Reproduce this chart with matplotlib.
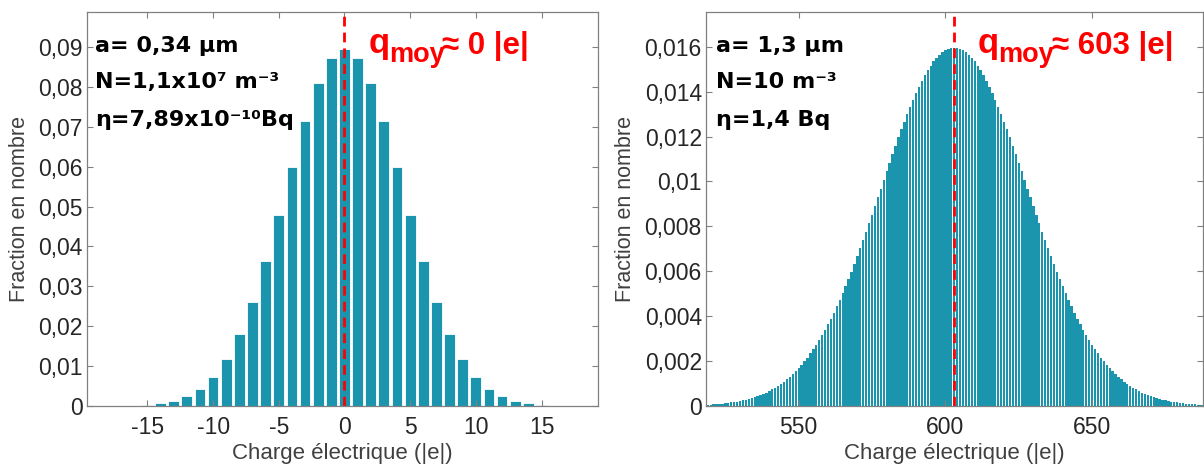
import numpy as np
import matplotlib
matplotlib.use("Agg")
import matplotlib.pyplot as plt
from matplotlib.ticker import FixedLocator, FuncFormatter

# charge distribution, small particle (a = 0,34 um)
charge_small = np.arange(-16, 17)
frac_small = [0.0001, 0.0002, 0.0007, 0.0013, 0.0024, 0.0043, 0.0073, 0.0117,
              0.0180, 0.0262, 0.0363, 0.0478, 0.0599, 0.0714, 0.0809, 0.0872,
              0.0894,
              0.0872, 0.0809, 0.0714, 0.0599, 0.0478, 0.0363, 0.0262, 0.0180,
              0.0117, 0.0073, 0.0043, 0.0024, 0.0013, 0.0007, 0.0002, 0.0001]

# charge distribution, large particle (a = 1,3 um), one bar per charge 519..688
charge_large = np.arange(519, 689)
frac_large = [
    0.00006, 0.00006, 0.00007, 0.00008, 0.00010, 0.00011, 0.00012, 0.00014, 0.00016, 0.00018,
    0.00020, 0.00022, 0.00025, 0.00028, 0.00032, 0.00035, 0.00039, 0.00044, 0.00049, 0.00054,
    0.00060, 0.00067, 0.00074, 0.00081, 0.00090, 0.00099, 0.00108, 0.00119, 0.00130, 0.00142,
    0.00155, 0.00169, 0.00183, 0.00199, 0.00216, 0.00234, 0.00253, 0.00273, 0.00294, 0.00316,
    0.00339, 0.00364, 0.00389, 0.00416, 0.00444, 0.00473, 0.00503, 0.00534, 0.00566, 0.00599,
    0.00633, 0.00668, 0.00703, 0.00740, 0.00777, 0.00814, 0.00852, 0.00891, 0.00929, 0.00968,
    0.01007, 0.01045, 0.01084, 0.01122, 0.01159, 0.01196, 0.01232, 0.01267, 0.01300, 0.01333,
    0.01364, 0.01394, 0.01422, 0.01449, 0.01473, 0.01496, 0.01516, 0.01535, 0.01551, 0.01564,
    0.01576, 0.01585, 0.01591, 0.01595,
    0.01596,
    0.01595, 0.01591, 0.01585, 0.01576, 0.01564, 0.01551, 0.01535, 0.01516, 0.01496, 0.01473,
    0.01449, 0.01422, 0.01394, 0.01364, 0.01333, 0.01300, 0.01267, 0.01232, 0.01196, 0.01159,
    0.01122, 0.01084, 0.01045, 0.01007, 0.00968, 0.00929, 0.00891, 0.00852, 0.00814, 0.00777,
    0.00740, 0.00703, 0.00668, 0.00633, 0.00599, 0.00566, 0.00534, 0.00503, 0.00473, 0.00444,
    0.00416, 0.00389, 0.00364, 0.00339, 0.00316, 0.00294, 0.00273, 0.00253, 0.00234, 0.00216,
    0.00199, 0.00183, 0.00169, 0.00155, 0.00142, 0.00130, 0.00119, 0.00108, 0.00099, 0.00090,
    0.00081, 0.00074, 0.00067, 0.00060, 0.00054, 0.00049, 0.00044, 0.00039, 0.00035, 0.00032,
    0.00028, 0.00025, 0.00022, 0.00020, 0.00018, 0.00016, 0.00014, 0.00012, 0.00011, 0.00010,
    0.00008, 0.00007, 0.00006, 0.00006, 0.00005,
]

q_moy_small = 0
q_moy_large = 603

params_small = ["a= 0,34 µm", "N=1,1x10⁷ m⁻³", "η=7,89x10⁻¹⁰Bq"]
params_large = ["a= 1,3 µm", "N=10 m⁻³", "η=1,4 Bq"]

yticks_small = [0, 0.01, 0.02, 0.03, 0.04, 0.05, 0.06, 0.07, 0.08, 0.09]
yticks_large = [0, 0.002, 0.004, 0.006, 0.008, 0.01, 0.012, 0.014, 0.016]
xticks_small = [-15, -10, -5, 0, 5, 10, 15]
xticks_large = [550, 600, 650]

BAR = "#1b95ad"
GRID_GREY = "#808080"
TXT = "#262626"

plt.rcParams["font.family"] = ["Liberation Sans", "DejaVu Sans"]

fig = plt.figure(figsize=(12.04, 4.70), dpi=100)
ax1 = fig.add_axes([87 / 1204, 64 / 470, 511 / 1204, 394 / 470])
ax2 = fig.add_axes([706 / 1204, 64 / 470, 497 / 1204, 394 / 470])


def comma(v, pos):
    return f"{v:g}".replace(".", ",")


def style(ax, xt, yt, xlim, ylim, ylab_x):
    ax.set_xlim(*xlim)
    ax.set_ylim(*ylim)
    ax.xaxis.set_major_locator(FixedLocator(xt))
    ax.yaxis.set_major_locator(FixedLocator(yt))
    ax.yaxis.set_major_formatter(FuncFormatter(comma))
    ax.xaxis.set_major_formatter(FuncFormatter(lambda v, p: f"{v:g}"))
    ax.tick_params(direction="in", top=True, right=True, length=4,
                   width=0.8, color=GRID_GREY, labelsize=16.5, labelcolor=TXT)
    ax.tick_params(axis="x", pad=7)
    ax.tick_params(axis="y", pad=3)
    for s in ax.spines.values():
        s.set_color(GRID_GREY)
        s.set_linewidth(0.9)
    ax.set_xlabel("Charge électrique (|e|)", fontsize=16, color="#404040")
    ax.set_ylabel("Fraction en nombre", fontsize=15.5, color="#404040")
    ax.xaxis.set_label_coords(0.5, -0.095)
    ax.yaxis.set_label_coords(ylab_x, 0.5)


def annotate(ax, lines, q_text, x_txt, x_q, x_moy, x_eq):
    for line, yb in zip(lines, [0.898, 0.807, 0.711]):
        ax.text(x_txt, yb, line, transform=ax.transAxes, va="baseline",
                ha="left", fontsize=16, fontweight="bold", color="black",
                family="DejaVu Sans")
    red = dict(transform=ax.transAxes, va="baseline", ha="left",
               fontweight="bold", color="red")
    ax.text(x_q, 0.896, "q", fontsize=25, **red)
    ax.text(x_moy, 0.872, "moy", fontsize=19.5, **red)
    ax.text(x_eq, 0.893, q_text, fontsize=22.5, **red)


ax1.bar(charge_small, frac_small, width=0.82, color=BAR,
        edgecolor="white", linewidth=0.6)
ax1.axvline(q_moy_small, color="red", lw=2, ls=(0, (3.5, 2.2)))
style(ax1, xticks_small, yticks_small, (-19.6, 19.3), (0, 0.0988), -0.112)
annotate(ax1, params_small, "≈ 0 |e|", 0.016, 0.552, 0.591, 0.695)

ax2.bar(charge_large, frac_large, width=0.8, color=BAR, edgecolor="none")
ax2.axvline(q_moy_large, color="red", lw=2, ls=(0, (3.5, 2.2)))
style(ax2, xticks_large, yticks_large, (518.4, 687.8), (0, 0.01755), -0.141)
annotate(ax2, params_large, "≈ 603 |e|", 0.020, 0.546, 0.587, 0.697)

fig.savefig("out.png", dpi=100)
